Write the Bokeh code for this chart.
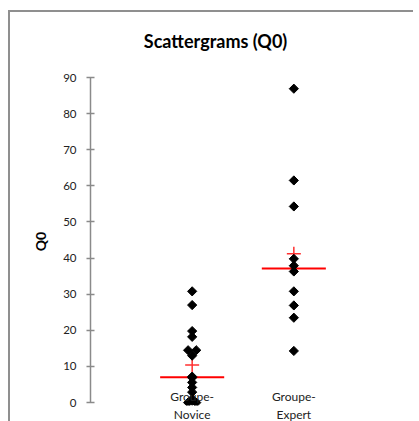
import numpy as np
from bokeh.plotting import figure
from bokeh.models import Range1d, FixedTicker, ColumnDataSource, LinearAxis
from bokeh.embed import file_html
from bokeh.resources import INLINE

# ---- data ----
categories = ["Groupe-\nNovice", "Groupe-\nExpert"]
novice = [30.8, 27.0, 19.8, 18.2, 14.5, 14.5, 13.0, 7.2, 6.9, 5.6, 4.2, 2.9, 1.0, 0.5, 0.0, 0.0]
expert = [86.9, 61.5, 54.3, 39.8, 37.9, 36.3, 30.8, 26.9, 23.5, 14.3]
y_ticks = [0, 10, 20, 30, 40, 50, 60, 70, 80, 90]
title = "Scattergrams (Q0)"
y_label = "Q0"

groups = [novice, expert]
positions = list(range(1, len(categories) + 1))
TITLE_X = 1.23  # horizontal anchor of the title (layout only)

p = figure(frame_width=305, frame_height=328,
           x_range=Range1d(0, 3), y_range=Range1d(-0.8, 90),
           output_backend="svg", toolbar_location=None, x_axis_location=None,
           min_border_left=80, min_border_top=65, min_border_right=20, min_border_bottom=12)
p.styles = {"margin-left": "10px", "margin-top": "12px",
            "box-shadow": "-2px -2px 0px 0px #8f8f8f"}
p.outline_line_color = None
p.xgrid.visible = False
p.ygrid.visible = False

# title drawn as a single labelled tick of an axis above the frame
tax = LinearAxis(ticker=FixedTicker(ticks=[TITLE_X]),
                 major_label_overrides={TITLE_X: title})
tax.axis_line_color = None
tax.major_tick_line_color = None
tax.minor_tick_line_color = None
tax.major_tick_out = 0
tax.major_tick_in = 0
tax.major_label_standoff = 26
tax.major_label_text_font = "Lato"
tax.major_label_text_font_size = "18px"
tax.major_label_text_font_style = "bold"
tax.major_label_text_color = "#000000"
p.add_layout(tax, "above")

# category axis below
xa = LinearAxis(ticker=FixedTicker(ticks=positions),
                major_label_overrides={pos: lab for pos, lab in zip(positions, categories)})
xa.axis_line_color = None
xa.major_tick_line_color = None
xa.minor_tick_line_color = None
xa.major_tick_out = 0
xa.major_tick_in = 0
xa.major_label_standoff = -17
xa.major_label_text_font = "Lato"
xa.major_label_text_font_size = "12px"
xa.major_label_text_color = "#222222"
xa.major_label_text_line_height = 1.2
p.add_layout(xa, "below")

axis_color = "#8a8a8a"
ya = p.yaxis[0]
ya.ticker = FixedTicker(ticks=y_ticks)
ya.bounds = (y_ticks[0], y_ticks[-1])
ya.axis_line_color = axis_color
ya.axis_line_width = 1.5
ya.major_tick_line_color = axis_color
ya.major_tick_line_width = 1.5
ya.major_tick_in = 4
ya.major_tick_out = 4
ya.minor_tick_line_color = None
ya.major_label_standoff = 10
ya.major_label_text_font = "Lato"
ya.major_label_text_font_size = "11.5px"
ya.major_label_text_color = "#222222"
ya.axis_label = y_label
ya.axis_label_text_font = "Lato"
ya.axis_label_text_font_style = "bold"
ya.axis_label_text_font_size = "14px"
ya.axis_label_text_color = "#000000"
ya.axis_label_standoff = 11

# median lines and means
half = 0.315
for pos, vals in zip(positions, groups):
    med = float(np.median(vals))
    mean = float(np.mean(vals))
    p.segment(x0=[pos - half], y0=[med], x1=[pos + half], y1=[med], line_color="#ff0000", line_width=2)
    p.scatter(x=[pos], y=[mean], marker="cross", size=14, line_color="#ff3030", line_width=1.5)

# points (duplicates side by side)
xs, ys = [], []
for pos, vals in zip(positions, groups):
    counts = {}
    for v in vals:
        counts[v] = counts.get(v, 0) + 1
    seen = {}
    for v in vals:
        n = counts[v]
        k = seen.get(v, 0)
        seen[v] = k + 1
        off = (k - (n - 1) / 2) * 0.08
        xs.append(pos + off)
        ys.append(v)
src = ColumnDataSource(data=dict(x=xs, y=ys))
p.scatter(x="x", y="y", source=src, marker="square", angle=np.pi / 4, size=6.5,
          fill_color="#000000", line_color="#000000")

open("out.html", "w").write(file_html(p, INLINE))
